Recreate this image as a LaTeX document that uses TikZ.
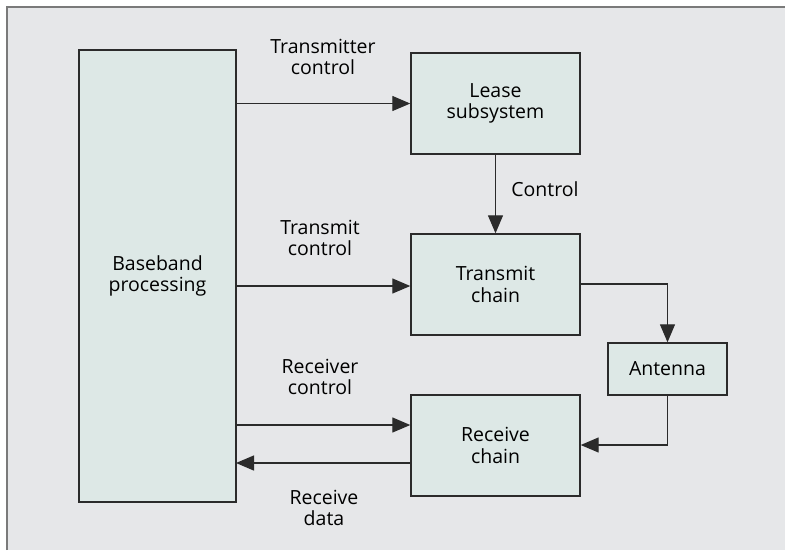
\documentclass[tikz,border=0pt]{standalone}
\usepackage{fontspec}
\setmainfont{Open Sans}
\usetikzlibrary{arrows.meta}
\definecolor{panel}{HTML}{E6E7E9}
\definecolor{boxfill}{HTML}{DDE8E6}
\definecolor{ink}{HTML}{2B2B2B}
\definecolor{framegray}{HTML}{7A7A7A}
\tikzset{
  blk/.style={draw=ink, line width=1.4pt, fill=boxfill, inner sep=0pt},
  lbl/.style={align=center, font=\fontsize{19.5}{21.5}\selectfont, text=black, inner sep=0pt},
  wire/.style={draw=ink, line width=1.3pt},
  flow/.style={wire, -{Triangle[length=18pt,width=15pt]}},
}
\begin{document}
\begin{tikzpicture}[x=1pt,y=-1pt]
  \useasboundingbox (0,0) rectangle (785,550);
  % panel background with frame on top and left
  \fill[panel] (7,7) rectangle (785,550);
  \draw[framegray, line width=2pt] (7,550) -- (7,7) -- (785,7);

  % blocks (corner to corner)
  \node[blk, minimum width=157pt, minimum height=452pt] (base) at (157.5,276) {};
  \node[lbl] at (base.center) {Baseband\\processing};
  \node[blk, minimum width=169pt, minimum height=101pt] (lease) at (495.5,103.5) {};
  \node[lbl] at (lease.center) {Lease\\subsystem};
  \node[blk, minimum width=169pt, minimum height=101pt] (tx) at (495.5,284.5) {};
  \node[lbl] at (tx.center) {Transmit\\chain};
  \node[blk, minimum width=119pt, minimum height=52pt] (ant) at (667.5,369) {};
  \node[lbl] at (ant.center) {Antenna};
  \node[blk, minimum width=169pt, minimum height=101pt] (rx) at (495.5,445.5) {};
  \node[lbl] at (rx.center) {Receive\\chain};

  % connector anchor points
  \coordinate (c1) at (236,103.5);
  \coordinate (c2) at (236,286);
  \coordinate (c3) at (236,425);
  \coordinate (c4) at (236,463);
  \coordinate (tc) at (667.5,284);
  \coordinate (rc) at (667.5,445);

  \draw[flow] (c1) -- (c1 -| lease.west);
  \draw[flow] (lease.south) -- (tx.north);
  \draw[flow] (c2) -- (c2 -| tx.west);
  \draw[flow] (c3) -- (c3 -| rx.west);
  \draw[flow] (c4 -| rx.west) -- (c4);
  \draw[wire] (tc -| tx.east) -- (tc);
  \draw[flow] (tc) -- (ant.north);
  \draw[wire] (ant.south) -- (rc);
  \draw[flow] (rc) -- (rc -| rx.east);

  % connector labels
  \node[lbl] (l1) at (323,57) {Transmitter\\control};
  \node[lbl] (l2) at (545,189) {Control};
  \node[lbl] (l3) at (320,238) {Transmit\\control};
  \node[lbl] (l4) at (320,377) {Receiver\\control};
  \node[lbl] (l5) at (324,508) {Receive\\data};
\end{tikzpicture}
\end{document}
